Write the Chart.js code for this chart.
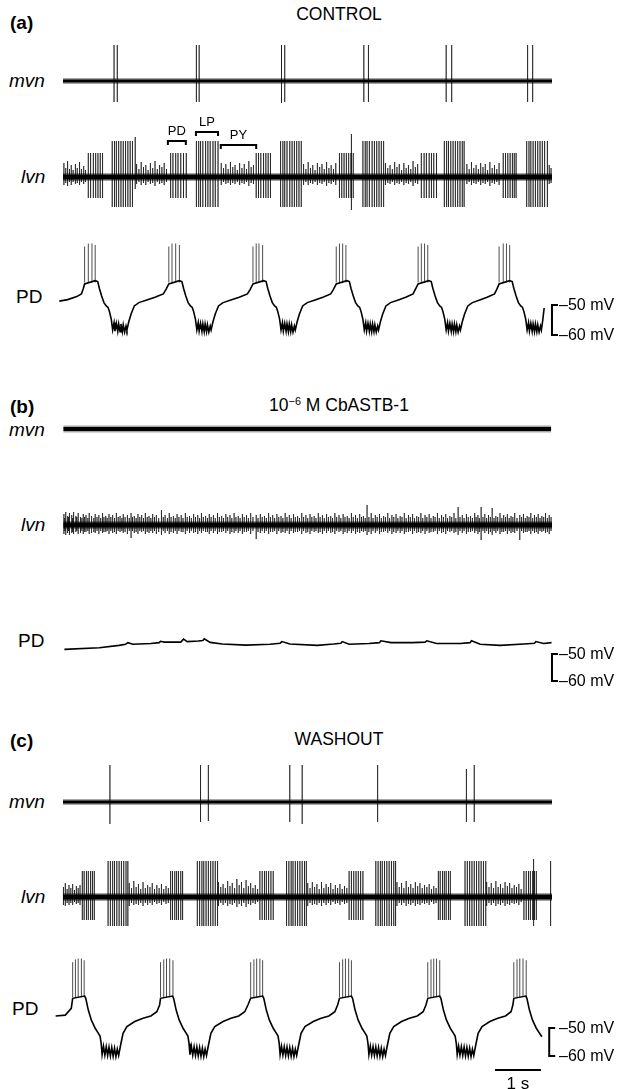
<!DOCTYPE html>
<html>
<head>
<meta charset="utf-8">
<script src="https://cdn.jsdelivr.net/npm/chart.js@4.4.0/dist/chart.umd.min.js"></script>
<style>
  body { margin: 0; background: #fff; }
  #fig { position: relative; width: 620px; height: 1089px; overflow: hidden;
         font-family: "Liberation Sans", Arial, sans-serif; color: #000; }
  #fig canvas { position: absolute; }
  .lbl { position: absolute; white-space: nowrap; line-height: 1; }
  .lbl sup { font-size: 0.62em; line-height: 0; vertical-align: 0.55em; }
</style>
</head>
<body>
<div id="fig"></div>
<script>
// ---------- data (time in s, membrane potential in mV, nerve amplitude in a.u.) ----------

// mvn spikes: [time, up, down]
const mvnA = [[1.11,36,21],[1.18,36,21],[2.90,36,21],[2.96,36,21],[4.75,36,22],[4.82,36,21],
              [6.54,36,21],[6.64,36,21],[8.33,36,21],[8.45,36,21],[10.10,36,21],[10.21,36,21]];
const mvnC = [[1.02,37,22],[2.99,37,20],[3.16,37,19],[4.93,37,20],[5.20,37,22],[6.84,37,20],
              [8.77,33,20],[8.94,37,20]];

// lvn (a): PD and LP burst spike times, PY / other spikes as [time, up, down]
const lvnA_PD = [0.55,0.60,0.66,0.71,0.76,0.81,0.86, 2.34,2.39,2.45,2.50,2.56,2.62,2.68,
                 4.20,4.25,4.30,4.36,4.41,4.46,4.51, 6.01,6.06,6.11,6.16,6.21,6.26,6.31,
                 7.79,7.85,7.90,7.96,8.01,8.06,8.12, 9.57,9.62,9.67,9.72,9.77,9.81,9.85];
const lvnA_LP = [1.07,1.12,1.16,1.21,1.26,1.31,1.36,1.41,1.46,1.51,
                 2.90,2.95,2.99,3.04,3.10,3.15,3.20,3.26,3.31,3.37,
                 4.73,4.78,4.82,4.87,4.93,4.98,5.03,5.08,5.13,5.18,
                 6.52,6.57,6.61,6.66,6.72,6.77,6.82,6.87,6.92,6.97,
                 8.29,8.34,8.38,8.43,8.48,8.53,8.58,8.63,8.68,8.72,
                 10.08,10.13,10.17,10.22,10.27,10.32,10.37,10.42,10.47,10.53];
const lvnA_ampPD = [24, 21];
const lvnA_ampLP = [36, 30];
const lvnA_PY = [
  [0.02,14,8],[0.06,9,6],[0.10,16,9],[0.14,8,5],[0.18,12,8],[0.22,7,5],[0.27,13,7],[0.31,9,6],[0.36,15,8],[0.40,8,5],[0.45,11,7],[0.49,7,5],
  [1.57,40,12],[1.60,13,7],[1.65,8,5],[1.70,15,8],[1.75,10,6],[1.80,12,8],[1.85,7,5],[1.90,14,7],[1.95,9,6],[2.00,16,9],[2.05,8,5],[2.10,12,7],[2.15,10,6],[2.20,14,8],[2.25,8,5],
  [3.44,14,8],[3.49,9,5],[3.54,13,7],[3.59,8,6],[3.64,15,8],[3.69,10,6],[3.74,12,7],[3.79,7,5],[3.84,14,8],[3.89,9,6],[3.94,13,7],[3.99,8,5],[4.04,16,9],[4.09,10,6],[4.14,12,7],
  [5.23,13,8],[5.28,8,5],[5.33,15,8],[5.38,9,6],[5.43,12,7],[5.48,7,5],[5.53,14,8],[5.58,10,6],[5.63,13,7],[5.68,8,5],[5.73,15,9],[5.78,9,6],[5.83,12,7],[5.88,8,5],[5.93,14,8],
  [6.27,43,33],
  [7.01,14,8],[7.06,9,6],[7.11,12,7],[7.16,8,5],[7.21,15,8],[7.26,10,6],[7.31,13,7],[7.36,7,5],[7.41,14,8],[7.46,9,6],[7.51,12,7],[7.56,8,5],[7.61,16,9],[7.66,10,6],[7.71,13,7],
  [8.78,13,7],[8.83,8,5],[8.88,15,8],[8.93,9,6],[8.98,12,7],[9.03,8,5],[9.08,14,8],[9.13,10,6],[9.18,13,7],[9.23,7,5],[9.28,15,9],[9.33,9,6],[9.38,12,7],[9.43,8,5],[9.48,14,8],
  [10.57,12,7],[10.61,9,6]
];
// bursts marked above the lvn trace in (a): [label, start, end]
const burstMarks = [['PD', 2.28, 2.67], ['LP', 2.89, 3.37], ['PY', 3.43, 4.20]];

// lvn (b): irregular small units, [time, up, down]
const lvnB = [
  [0.02,11,9],[0.06,13,10],[0.10,9,8],[0.14,12,10],[0.19,10,8],[0.23,13,9],[0.28,9,7],[0.33,12,9],[0.38,8,8],[0.44,11,9],
  [0.50,10,7],[0.57,12,9],[0.63,9,8],[0.70,11,8],[0.78,10,9],[0.86,12,8],[0.93,9,7],[1.00,11,9],[1.08,10,8],[1.16,12,9],
  [1.24,9,7],[1.31,11,8],[1.40,10,9],[1.48,12,13],[1.55,9,8],[1.63,11,9],[1.71,10,7],[1.79,12,9],[1.87,9,8],[1.95,11,8],
  [2.03,10,9],[2.14,15,10],[2.22,10,8],[2.31,12,9],[2.40,9,8],[2.48,11,9],[2.57,10,7],[2.66,12,9],[2.75,9,8],[2.84,11,8],
  [2.93,10,9],[3.01,12,8],[3.10,9,7],[3.18,11,9],[3.27,10,8],[3.36,12,9],[3.45,9,7],[3.54,11,8],[3.63,10,9],[3.72,12,8],
  [3.81,9,8],[3.90,11,9],[3.99,10,7],[4.08,12,9],[4.20,10,14],[4.29,11,8],[4.38,9,8],[4.47,12,9],[4.56,10,7],[4.65,11,9],
  [4.74,9,8],[4.83,12,8],[4.92,10,9],[5.01,11,8],[5.10,9,7],[5.19,12,9],[5.28,10,8],[5.37,11,9],[5.46,9,7],[5.55,12,8],
  [5.64,10,9],[5.73,11,8],[5.82,9,8],[5.91,12,9],[6.00,10,7],[6.09,11,9],[6.18,9,8],[6.27,12,8],[6.36,10,9],[6.45,11,8],
  [6.53,9,7],[6.61,20,10],[6.70,12,9],[6.79,10,8],[6.88,11,9],[6.97,9,7],[7.06,12,8],[7.15,10,9],[7.24,11,8],[7.33,9,8],
  [7.42,12,9],[7.51,10,7],[7.60,11,9],[7.69,9,8],[7.78,12,8],[7.87,10,9],[7.96,11,8],[8.05,9,7],[8.14,12,9],[8.23,10,8],
  [8.32,11,9],[8.41,9,7],[8.50,12,8],[8.59,18,10],[8.68,10,8],[8.77,11,9],[8.86,9,7],[8.95,12,8],[9.02,10,9],[9.09,18,15],
  [9.17,11,8],[9.25,10,9],[9.33,17,10],[9.41,9,8],[9.50,12,9],[9.58,10,7],[9.66,11,9],[9.74,9,8],[9.82,12,8],[9.93,10,15],
  [10.01,11,8],[10.09,9,7],[10.17,12,9],[10.25,10,8],[10.33,11,9],[10.41,9,7],[10.49,12,8],[10.57,10,9]
];
// lvn (b): smaller background units between the larger ones
const lvnB_small = [
  [0.04,7,6],[0.12,8,6],[0.21,7,7],[0.30,8,6],[0.41,7,6],[0.47,8,7],[0.54,7,6],[0.61,8,6],[0.67,7,7],[0.74,8,6],
  [0.82,7,6],[0.89,8,7],[0.96,7,6],[1.04,8,6],[1.12,7,7],[1.20,8,6],[1.28,7,6],[1.35,8,7],[1.44,7,6],[1.51,8,6],
  [1.59,7,7],[1.67,8,6],[1.75,7,6],[1.83,8,7],[1.91,7,6],[1.99,8,6],[2.08,7,7],[2.18,8,6],[2.27,7,6],[2.35,8,7],
  [2.44,7,6],[2.52,8,6],[2.61,7,7],[2.70,8,6],[2.79,7,6],[2.88,8,7],[2.97,7,6],[3.05,8,6],[3.14,7,7],[3.22,8,6],
  [3.31,7,6],[3.40,8,7],[3.49,7,6],[3.58,8,6],[3.67,7,7],[3.76,8,6],[3.85,7,6],[3.94,8,7],[4.03,7,6],[4.13,8,6],
  [4.24,7,7],[4.33,8,6],[4.42,7,6],[4.51,8,7],[4.60,7,6],[4.69,8,6],[4.78,7,7],[4.87,8,6],[4.96,7,6],[5.05,8,7],
  [5.14,7,6],[5.23,8,6],[5.32,7,7],[5.41,8,6],[5.50,7,6],[5.59,8,7],[5.68,7,6],[5.77,8,6],[5.86,7,7],[5.95,8,6],
  [6.04,7,6],[6.13,8,7],[6.22,7,6],[6.31,8,6],[6.40,7,7],[6.49,8,6],[6.57,7,6],[6.65,8,7],[6.74,7,6],[6.83,8,6],
  [6.92,7,7],[7.01,8,6],[7.10,7,6],[7.19,8,7],[7.28,7,6],[7.37,8,6],[7.46,7,7],[7.55,8,6],[7.64,7,6],[7.73,8,7],
  [7.82,7,6],[7.91,8,6],[8.00,7,7],[8.09,8,6],[8.18,7,6],[8.27,8,7],[8.36,7,6],[8.45,8,6],[8.54,7,7],[8.63,8,6],
  [8.72,7,6],[8.81,8,7],[8.90,7,6],[8.98,8,6],[9.05,7,7],[9.13,8,6],[9.21,7,6],[9.29,8,7],[9.37,7,6],[9.45,8,6],
  [9.54,7,7],[9.62,8,6],[9.70,7,6],[9.78,8,7],[9.87,7,6],[9.97,8,6],[10.05,7,7],[10.13,8,6],[10.21,7,6],[10.29,8,7],
  [10.37,7,6],[10.45,8,6],[10.53,7,7],[10.61,8,6]
];

// lvn (c)
const lvnC_PD = [0.42,0.46,0.51,0.55,0.60,0.64,0.68, 2.34,2.38,2.43,2.47,2.51,2.56,2.60,
                 4.28,4.33,4.38,4.42,4.47,4.52,4.57, 6.22,6.27,6.32,6.37,6.42,6.47,6.52,
                 8.16,8.20,8.25,8.29,8.33,8.38,8.42, 10.02,10.07,10.12,10.16,10.21,10.25,10.29];
const lvnC_LP = [0.98,1.03,1.08,1.12,1.17,1.22,1.27,1.32,1.37,1.41,
                 2.92,2.97,3.02,3.06,3.11,3.16,3.21,3.26,3.31,3.36,
                 4.86,4.91,4.96,5.00,5.05,5.10,5.15,5.20,5.25,5.29,
                 6.80,6.85,6.90,6.94,6.99,7.04,7.09,7.14,7.19,7.23,
                 8.74,8.79,8.84,8.89,8.94,8.99,9.04,9.09,9.14,9.19];
const lvnC_ampPD = [26, 23];
const lvnC_ampLP = [36, 29];
const lvnC_PY = [
  [0.01,10,8],[0.05,14,9],[0.09,8,6],[0.13,12,8],[0.17,9,6],[0.21,13,8],[0.25,7,5],[0.29,11,7],[0.33,9,6],[0.37,12,8],
  [1.44,14,9],[1.49,9,6],[1.54,16,8],[1.59,10,7],[1.64,13,8],[1.69,8,6],[1.74,15,9],[1.79,9,6],[1.84,12,8],[1.89,10,6],[1.94,14,8],[1.99,8,5],[2.04,12,7],[2.09,9,6],[2.14,13,8],[2.19,8,5],[2.24,11,7],[2.29,9,6],
  [3.38,15,9],[3.43,10,6],[3.48,13,8],[3.53,9,6],[3.58,16,9],[3.63,11,7],[3.68,14,8],[3.73,9,6],[3.78,18,10],[3.83,12,7],[3.88,15,9],[3.93,9,6],[3.98,17,10],[4.03,11,7],[4.08,14,8],[4.13,9,6],[4.18,12,7],[4.23,8,5],
  [5.32,14,9],[5.37,9,6],[5.42,15,8],[5.47,10,7],[5.52,13,8],[5.57,8,6],[5.62,15,9],[5.67,9,6],[5.72,13,8],[5.77,10,6],[5.82,14,8],[5.87,8,5],[5.92,12,7],[5.97,9,6],[6.02,13,8],[6.07,8,5],[6.12,11,7],[6.17,9,6],
  [7.26,15,9],[7.31,10,6],[7.36,14,8],[7.41,9,6],[7.46,16,9],[7.51,10,7],[7.56,13,8],[7.61,9,6],[7.66,15,9],[7.71,11,7],[7.76,14,8],[7.81,9,6],[7.86,12,7],[7.91,10,6],[7.96,13,8],[8.01,8,5],[8.06,11,7],[8.11,9,6],
  [9.21,15,9],[9.26,10,6],[9.31,14,8],[9.36,9,6],[9.41,16,9],[9.46,10,7],[9.51,13,8],[9.56,9,6],[9.61,15,9],[9.66,11,7],[9.71,14,8],[9.76,9,6],[9.81,12,7],[9.86,10,6],[9.91,13,8],[9.96,8,5],
  [10.23,38,29],[10.60,36,29]
];

// nerve recording extents [start, end] in s
const spanMvnA = [0.0, 10.63], spanLvnA = [0.0, 10.63];
const spanMvnB = [0.01, 10.61], spanLvnB = [0.01, 10.63];
const spanMvnC = [0.0, 10.63], spanLvnC = [0.0, 10.63];

// PD intracellular, slow wave [time, mV]
const pdA_wave = [
  [-0.08,-48.7],[0.10,-48.2],[0.30,-47.2],[0.40,-46.3],[0.44,-44.6],
  [0.47,-43.0],[0.70,-41.9],[0.755,-42.2],[0.79,-44.4],[0.84,-47.0],[0.89,-49.2],[0.94,-50.3],[0.98,-50.8],[1.01,-52.2],[1.05,-54.8],
  [1.08,-58.3],[1.11,-55.9],[1.13,-58.7],[1.16,-56.1],[1.19,-58.8],[1.21,-56.3],[1.24,-58.9],[1.26,-56.3],[1.29,-58.9],[1.31,-56.6],[1.34,-59.0],[1.37,-57.0],[1.39,-58.3],
  [1.43,-55.6],[1.48,-53.0],[1.55,-50.3],[1.65,-49.2],[1.82,-48.3],[2.00,-47.4],[2.18,-46.3],[2.24,-44.8],
  [2.30,-43.0],[2.53,-41.9],[2.585,-42.2],[2.62,-44.4],[2.67,-47.0],[2.72,-49.2],[2.77,-50.3],[2.81,-50.8],[2.84,-52.2],[2.88,-54.8],
  [2.91,-58.3],[2.94,-55.9],[2.96,-58.7],[2.99,-56.1],[3.02,-58.8],[3.04,-56.3],[3.07,-58.9],[3.09,-56.3],[3.12,-58.9],[3.14,-56.6],[3.17,-59.0],[3.20,-57.0],[3.22,-58.3],
  [3.26,-55.6],[3.31,-53.0],[3.38,-50.3],[3.48,-49.2],[3.65,-48.3],[3.83,-47.4],[4.01,-46.3],[4.07,-44.8],
  [4.13,-43.0],[4.36,-41.9],[4.415,-42.2],[4.45,-44.4],[4.50,-47.0],[4.55,-49.2],[4.60,-50.3],[4.64,-50.8],[4.67,-52.2],[4.71,-54.8],
  [4.74,-58.3],[4.77,-55.9],[4.79,-58.7],[4.82,-56.1],[4.85,-58.8],[4.87,-56.3],[4.90,-58.9],[4.92,-56.3],[4.95,-58.9],[4.97,-56.6],[5.00,-59.0],[5.03,-57.0],[5.05,-58.3],
  [5.09,-55.6],[5.14,-53.0],[5.21,-50.3],[5.31,-49.2],[5.48,-48.3],[5.65,-47.4],[5.82,-46.3],[5.88,-44.8],
  [5.94,-43.0],[6.17,-41.9],[6.225,-42.2],[6.26,-44.4],[6.31,-47.0],[6.36,-49.2],[6.41,-50.3],[6.45,-50.8],[6.48,-52.2],[6.52,-54.8],
  [6.55,-58.3],[6.58,-55.9],[6.60,-58.7],[6.63,-56.1],[6.66,-58.8],[6.68,-56.3],[6.71,-58.9],[6.73,-56.3],[6.76,-58.9],[6.78,-56.6],[6.81,-59.0],[6.84,-57.0],[6.86,-58.3],
  [6.90,-55.6],[6.95,-53.0],[7.02,-50.3],[7.12,-49.2],[7.29,-48.3],[7.45,-47.4],[7.61,-46.3],[7.66,-44.8],
  [7.72,-43.0],[7.95,-41.9],[8.005,-42.2],[8.04,-44.4],[8.09,-47.0],[8.14,-49.2],[8.19,-50.3],[8.23,-50.8],[8.26,-52.2],[8.30,-54.8],
  [8.33,-58.3],[8.36,-55.9],[8.38,-58.7],[8.41,-56.1],[8.44,-58.8],[8.46,-56.3],[8.49,-58.9],[8.51,-56.3],[8.54,-58.9],[8.56,-56.6],[8.59,-59.0],[8.62,-57.0],[8.64,-58.3],
  [8.68,-55.6],[8.73,-53.0],[8.80,-50.3],[8.90,-49.2],[9.06,-48.3],[9.22,-47.4],[9.38,-46.3],[9.43,-44.8],
  [9.48,-43.0],[9.71,-41.9],[9.765,-42.2],[9.80,-44.4],[9.85,-47.0],[9.90,-49.2],[9.95,-50.3],[9.99,-50.8],[10.02,-52.2],[10.06,-54.8],
  [10.09,-58.3],[10.12,-55.9],[10.14,-58.7],[10.17,-56.1],[10.20,-58.8],[10.22,-56.3],[10.25,-58.9],[10.27,-56.3],[10.30,-58.9],[10.32,-56.6],[10.35,-59.0],[10.38,-57.0],[10.40,-58.3],
  [10.43,-55.0],[10.46,-51.0]
];
// PD action potentials [time, peak mV]
const pdA_spikes = [
  [0.47,-30.5],[0.55,-29.5],[0.63,-29.5],[0.70,-30.0],
  [2.30,-30.5],[2.37,-29.5],[2.45,-29.5],[2.53,-30.0],
  [4.13,-30.5],[4.20,-29.5],[4.26,-29.5],[4.34,-30.0],
  [5.94,-30.5],[6.01,-29.5],[6.08,-29.5],[6.15,-30.0],
  [7.72,-30.5],[7.79,-29.5],[7.86,-29.5],[7.93,-30.0],
  [9.48,-30.5],[9.57,-29.5],[9.64,-29.5],[9.71,-30.0]
];
const pdA_spikeBase = -42.5;

const pdB_wave = [
  [0.03,-48.3],[0.79,-47.7],[1.22,-46.8],[1.36,-46.4],[1.41,-45.8],[1.52,-46.4],[1.91,-46.1],[2.09,-45.8],[2.12,-45.3],
  [2.20,-45.6],[2.34,-45.6],[2.56,-45.6],[2.62,-44.5],[2.70,-45.4],[2.94,-45.2],[3.04,-45.0],[3.07,-44.4],[3.20,-45.7],
  [3.46,-46.3],[3.98,-46.7],[4.50,-46.4],[4.72,-46.0],[4.76,-45.4],[4.93,-46.3],[5.53,-46.8],[5.88,-46.3],[6.04,-46.0],
  [6.07,-45.4],[6.22,-46.4],[6.65,-46.1],[6.88,-45.8],[6.91,-45.1],[7.13,-45.8],[7.60,-45.8],[7.87,-45.6],[7.91,-45.1],
  [8.12,-46.1],[8.64,-46.1],[8.85,-45.8],[8.88,-45.1],[9.07,-46.4],[9.50,-46.8],[10.02,-46.3],[10.25,-46.0],[10.28,-45.4],
  [10.45,-46.1],[10.62,-45.8]
];

const pdC_wave = [
  [-0.16,-45.7],[0.05,-45.4],[0.18,-43.0],
  [0.21,-39.4],[0.47,-38.6],[0.495,-39.4],[0.55,-43.6],[0.615,-47.1],[0.70,-50.1],[0.77,-51.9],[0.805,-52.9],[0.83,-55.5],
  [0.85,-59.5],[0.88,-56.5],[0.91,-59.7],[0.94,-56.7],[0.97,-59.8],[1.00,-56.8],[1.03,-60.0],[1.06,-57.0],[1.09,-60.1],[1.12,-57.2],[1.15,-60.2],[1.18,-57.5],[1.21,-59.8],
  [1.245,-56.7],[1.305,-51.9],[1.39,-49.5],[1.56,-47.7],[1.74,-46.5],[1.91,-45.7],[2.04,-44.2],[2.10,-41.8],
  [2.12,-39.4],[2.38,-38.6],[2.405,-39.4],[2.46,-43.6],[2.525,-47.1],[2.61,-50.1],[2.68,-51.9],[2.715,-52.9],[2.74,-55.5],
  [2.76,-59.5],[2.79,-56.5],[2.82,-59.7],[2.85,-56.7],[2.88,-59.8],[2.91,-56.8],[2.94,-60.0],[2.97,-57.0],[3.00,-60.1],[3.03,-57.2],[3.06,-60.2],[3.09,-57.5],[3.12,-59.8],
  [3.155,-56.7],[3.215,-51.9],[3.30,-49.5],[3.48,-47.7],[3.65,-46.5],[3.82,-45.7],[3.95,-44.2],[4.02,-41.8],
  [4.08,-39.4],[4.34,-38.6],[4.365,-39.4],[4.42,-43.6],[4.485,-47.1],[4.57,-50.1],[4.64,-51.9],[4.675,-52.9],[4.70,-55.5],
  [4.72,-59.5],[4.75,-56.5],[4.78,-59.7],[4.81,-56.7],[4.84,-59.8],[4.87,-56.8],[4.90,-60.0],[4.93,-57.0],[4.96,-60.1],[4.99,-57.2],[5.02,-60.2],[5.05,-57.5],[5.08,-59.8],
  [5.115,-56.7],[5.175,-51.9],[5.26,-49.5],[5.44,-47.7],[5.61,-46.5],[5.78,-45.7],[5.91,-44.2],[5.97,-41.8],
  [6.01,-39.4],[6.27,-38.6],[6.295,-39.4],[6.35,-43.6],[6.415,-47.1],[6.50,-50.1],[6.57,-51.9],[6.605,-52.9],[6.63,-55.5],
  [6.65,-59.5],[6.68,-56.5],[6.71,-59.7],[6.74,-56.7],[6.77,-59.8],[6.80,-56.8],[6.83,-60.0],[6.86,-57.0],[6.89,-60.1],[6.92,-57.2],[6.95,-60.2],[6.98,-57.5],[7.01,-59.8],
  [7.045,-56.7],[7.105,-51.9],[7.19,-49.5],[7.36,-47.7],[7.53,-46.5],[7.70,-45.7],[7.83,-44.2],[7.89,-41.8],
  [7.93,-39.4],[8.19,-38.6],[8.215,-39.4],[8.27,-43.6],[8.335,-47.1],[8.42,-50.1],[8.49,-51.9],[8.525,-52.9],[8.55,-55.5],
  [8.57,-59.5],[8.60,-56.5],[8.63,-59.7],[8.66,-56.7],[8.69,-59.8],[8.72,-56.8],[8.75,-60.0],[8.78,-57.0],[8.81,-60.1],[8.84,-57.2],[8.87,-60.2],[8.90,-57.5],[8.93,-59.8],
  [8.965,-56.7],[9.025,-51.9],[9.11,-49.5],[9.28,-47.7],[9.45,-46.5],[9.62,-45.7],[9.74,-44.2],[9.78,-41.8],
  [9.80,-39.4],[10.06,-38.6],[10.085,-39.4],[10.14,-43.6],[10.205,-47.1],[10.29,-50.1],[10.36,-51.9],[10.41,-53.1]
];
const pdC_spikes = [
  [0.21,-26.5],[0.27,-25.5],[0.33,-25.2],[0.40,-25.2],[0.46,-25.8],
  [2.12,-26.5],[2.19,-25.5],[2.25,-25.2],[2.32,-25.2],[2.39,-25.8],
  [4.08,-26.5],[4.15,-25.5],[4.21,-25.2],[4.28,-25.2],[4.34,-25.8],
  [6.01,-26.5],[6.08,-25.5],[6.14,-25.2],[6.21,-25.2],[6.27,-25.8],
  [7.93,-26.5],[8.00,-25.5],[8.06,-25.2],[8.12,-25.2],[8.19,-25.8],
  [9.80,-26.5],[9.87,-25.5],[9.93,-25.2],[10.00,-25.2],[10.07,-25.8]
];
const pdC_spikeBase = -39.0;

// calibration
const scaleMV = [-50, -60];
const scaleTime = [9.39, 10.39];   // 1 s bar
const timeBarLevel = -65;

// ---------- layout ----------
const X0 = 63, PX_PER_S = 46, LEFT = 50, WIDTH = 510;
const XMIN = (LEFT - X0) / PX_PER_S, XMAX = (LEFT + WIDTH - X0) / PX_PER_S;
const fig = document.getElementById('fig');

function text(str, x, y, size, opt = {}) {
  const el = document.createElement('div');
  el.className = 'lbl';
  el.innerHTML = str;
  el.style.fontSize = size + 'px';
  if (opt.bold) el.style.fontWeight = 'bold';
  if (opt.italic) el.style.fontStyle = 'italic';
  el.style.left = x + 'px';
  el.style.top = y + 'px';
  el.style.transform = opt.center ? 'translate(-50%,-50%)' : 'translateY(-50%)';
  fig.appendChild(el);
}

function trace(top, height, yMin, yMax, datasets) {
  const c = document.createElement('canvas');
  c.width = WIDTH; c.height = height;
  c.style.left = LEFT + 'px'; c.style.top = top + 'px';
  c.style.width = WIDTH + 'px'; c.style.height = height + 'px';
  fig.appendChild(c);
  const chart = new Chart(c, {
    type: 'line',
    data: { datasets },
    options: {
      responsive: false, animation: false, devicePixelRatio: 1,
      layout: { padding: 0 },
      plugins: { legend: { display: false }, tooltip: { enabled: false } },
      elements: { point: { radius: 0 }, line: { tension: 0, borderCapStyle: 'butt' } },
      scales: {
        x: { type: 'linear', min: XMIN, max: XMAX, display: false },
        y: { type: 'linear', min: yMin, max: yMax, display: false }
      }
    }
  });
  chart.$top = top;
  return chart;
}
// nerve: 1 a.u. per pixel around baseline y
const nerve = (top, height, base, ds) => trace(top, height, -(top + height - base), base - top, ds);
// intracellular: anchored on the -50 mV level
const intra = (top, height, y50, k, ds) => trace(top, height, -50 - (top + height - y50) / k, -50 + (y50 - top) / k, ds);

const withAmp = (times, amp) => times.map(t => [t, amp[0], amp[1]]);
function spikeTrain(list) {
  const pts = [];
  list.slice().sort((a, b) => a[0] - b[0]).forEach(([t, u, d]) => {
    pts.push({ x: t, y: 0 }, { x: t, y: u }, { x: t, y: -d }, { x: t, y: 0 });
  });
  return pts;
}
function nerveSets(span, spikes, band) {
  return [
    { data: [{ x: span[0], y: 0 }, { x: span[1], y: 0 }], borderColor: '#000', borderWidth: band },
    { data: [{ x: span[0], y: 0 }, { x: span[1], y: 0 }], borderColor: 'rgba(0,0,0,0.35)', borderWidth: band + 3 },
    { data: spikeTrain(spikes), borderColor: 'rgba(0,0,0,0.62)', borderWidth: 1 }
  ];
}
function pdSets(wave, spikes, base, barX, extra = []) {
  const sp = [];
  spikes.forEach(([t, p]) => sp.push({ x: t, y: base }, { x: t, y: p }, { x: t, y: null }));
  return [
    { data: wave.map(([x, y]) => ({ x, y })), borderColor: '#000', borderWidth: 1.6 },
    { data: sp, borderColor: 'rgba(0,0,0,0.7)', borderWidth: 1 },
    { data: [{ x: barX + 0.13, y: scaleMV[0] }, { x: barX, y: scaleMV[0] }, { x: barX, y: scaleMV[1] }, { x: barX + 0.13, y: scaleMV[1] }],
      borderColor: '#000', borderWidth: 2 },
    ...extra
  ];
}
function mvLabels(chart) {
  scaleMV.forEach(v => text('\u2013' + (-v) + ' mV', 559, chart.$top + chart.scales.y.getPixelForValue(v), 16));
}

// ---------- panel (a) ----------
text('(a)', 10, 22, 19, { bold: true });
text('CONTROL', 339, 15, 17.5, { center: true });
text('mvn', 9, 80, 19, { italic: true });
text('lvn', 21, 176, 19, { italic: true });
text('PD', 16, 296, 19);

nerve(40, 70, 81, nerveSets(spanMvnA, mvnA, 3));
const markH = { PD: 36, LP: 45, PY: 32 };
const lvnAChart = nerve(105, 115, 177, [
  ...nerveSets(spanLvnA, [...withAmp(lvnA_PD, lvnA_ampPD), ...withAmp(lvnA_LP, lvnA_ampLP), ...lvnA_PY], 5),
  ...burstMarks.map(([name, t0, t1]) => ({
    data: [{ x: t0, y: markH[name] - 4 }, { x: t0, y: markH[name] }, { x: t1, y: markH[name] }, { x: t1, y: markH[name] - 4 }],
    borderColor: '#000', borderWidth: 2
  }))
]);
burstMarks.forEach(([name, t0, t1]) => {
  const x = LEFT + lvnAChart.scales.x.getPixelForValue((t0 + t1) / 2);
  const y = lvnAChart.$top + lvnAChart.scales.y.getPixelForValue(markH[name]) - 11;
  text(name, x, y, 13, { center: true });
});
mvLabels(intra(228, 117, 305, 3.0, pdSets(pdA_wave, pdA_spikes, pdA_spikeBase, 10.63)));

// ---------- panel (b) ----------
text('(b)', 10, 406, 19, { bold: true });
text('10<sup>\u22126</sup> M CbASTB-1', 339, 406, 17.5, { center: true });
text('mvn', 9, 429, 19, { italic: true });
text('lvn', 21, 524, 19, { italic: true });
text('PD', 18, 640, 19);

nerve(410, 40, 429, nerveSets(spanMvnB, [], 4));
nerve(495, 60, 525, nerveSets(spanLvnB, [...lvnB, ...lvnB_small], 5));
mvLabels(intra(610, 80, 654, 2.7, pdSets(pdB_wave, [], pdA_spikeBase, 10.63)));

// ---------- panel (c) ----------
text('(c)', 10, 740, 19, { bold: true });
text('WASHOUT', 339, 740, 17.5, { center: true });
text('mvn', 9, 801, 19, { italic: true });
text('lvn', 21, 896, 19, { italic: true });
text('PD', 12, 1008, 19);

nerve(755, 75, 802, nerveSets(spanMvnC, mvnC, 3));
nerve(850, 100, 897, nerveSets(spanLvnC, [...withAmp(lvnC_PD, lvnC_ampPD), ...withAmp(lvnC_LP, lvnC_ampLP), ...lvnC_PY], 5));
const pdC = intra(950, 130, 1028, 2.8, pdSets(pdC_wave, pdC_spikes, pdC_spikeBase, 10.57, [
  { data: [{ x: scaleTime[0], y: timeBarLevel }, { x: scaleTime[1], y: timeBarLevel }], borderColor: '#000', borderWidth: 2 }
]));
mvLabels(pdC);
text('1 s', LEFT + pdC.scales.x.getPixelForValue((scaleTime[0] + scaleTime[1]) / 2),
     pdC.$top + pdC.scales.y.getPixelForValue(timeBarLevel) + 13, 17, { center: true });
</script>
</body>
</html>
